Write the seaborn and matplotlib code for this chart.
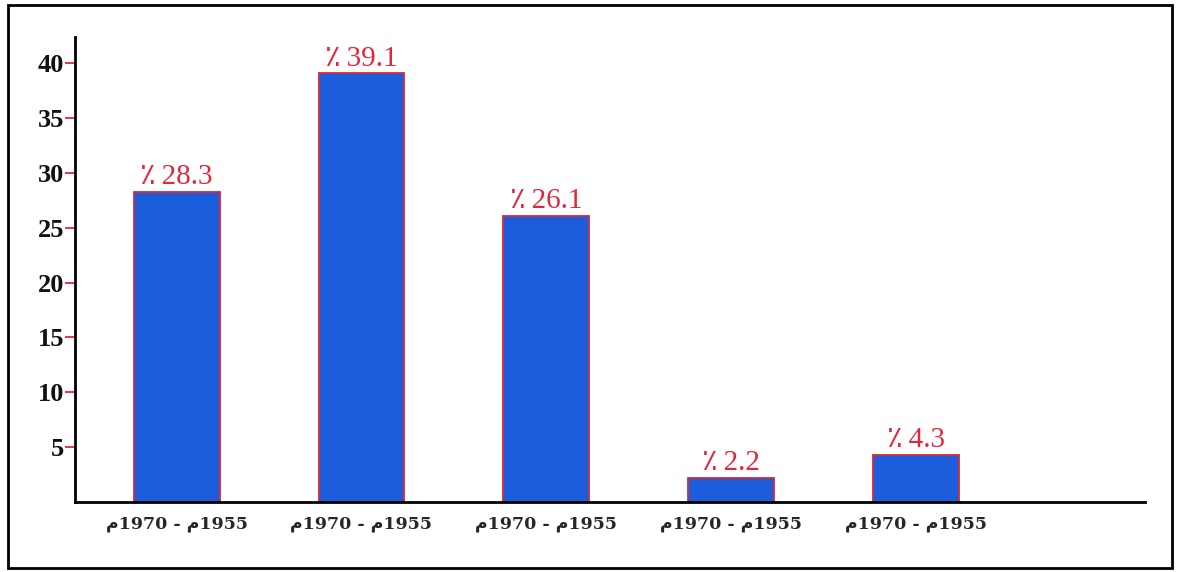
import matplotlib
matplotlib.use("Agg")
import matplotlib.pyplot as plt
import matplotlib.patches as patches
import seaborn as sns
import pandas as pd

# Data
periods = ["م1970 - م1955"] * 5
values = [28.3, 39.1, 26.1, 2.2, 4.3]
value_labels = ["٪\u200928.3", "٪\u200939.1", "٪\u200926.1", "٪\u20092.2", "٪\u20094.3"]
yticks = [5, 10, 15, 20, 25, 30, 35, 40]

sns.set_style("white")
plt.rcParams['font.family'] = ['Liberation Serif', 'DejaVu Sans']

df = pd.DataFrame({"pos": [str(i) for i in range(len(values))], "value": values})

fig = plt.figure(figsize=(11.82, 5.72), dpi=100)
ax = fig.add_axes([0.0635, 0.1224, 0.9052, 0.8129])

sns.barplot(data=df, x="pos", y="value", color="#1c5ddc", saturation=1,
            edgecolor="#d8283a", linewidth=1.3, width=0.465, ax=ax)

# value labels
for p, lab in zip(ax.patches, value_labels):
    ax.annotate(lab, (p.get_x() + p.get_width() / 2, p.get_height()),
                xytext=(0, 1), textcoords="offset points", ha="center", va="bottom",
                color="#e0283c", fontsize=21)

ax.set_xlim(-0.55, 5.24)
ax.set_ylim(0, 42.4)
ax.set_yticks(yticks)
ax.set_yticklabels([str(t) for t in yticks], fontsize=19, fontweight="bold", color="#111111")
ax.set_xticks(range(len(periods)))
ax.set_xticklabels(periods, fontsize=12.5, fontweight="bold",
                   family=['DejaVu Serif', 'DejaVu Sans'])
ax.tick_params(axis="y", left=True, length=7, width=1.3, color="#e0283c", pad=1)
ax.tick_params(axis="x", bottom=False, pad=6)
ax.set_xlabel("")
ax.set_ylabel("")

sns.despine(ax=ax)
for s in ["left", "bottom"]:
    ax.spines[s].set_color("black")
    ax.spines[s].set_linewidth(2)

# outer frame
fig.patches.append(patches.Rectangle((8 / 1182, 4 / 572), 1164 / 1182, 563 / 572,
                                     transform=fig.transFigure, fill=False,
                                     edgecolor="black", linewidth=2))

fig.savefig("out.png", dpi=100)
